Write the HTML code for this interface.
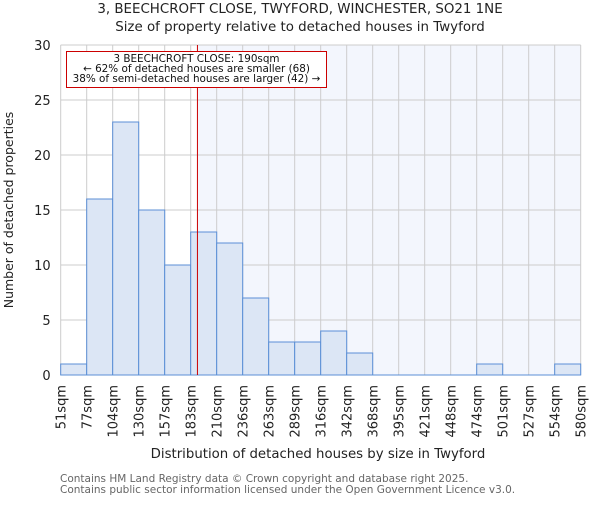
<!DOCTYPE html>
<html><head><meta charset="utf-8"><style>
body{margin:0;background:#fff;}
svg{font-family:"DejaVu Sans","Liberation Sans",sans-serif;}
</style></head><body>
<svg id="chart" width="600" height="500" xmlns="http://www.w3.org/2000/svg">
<text x="300" y="13" text-anchor="middle" font-size="13.4" fill="#222">3, BEECHCROFT CLOSE, TWYFORD, WINCHESTER, SO21 1NE</text>
<text x="300" y="31" text-anchor="middle" font-size="13.4" fill="#222">Size of property relative to detached houses in Twyford</text>
<g id="plot"></g>
<text x="318" y="458" text-anchor="middle" font-size="13.3" fill="#222">Distribution of detached houses by size in Twyford</text>
<text transform="translate(13,210) rotate(-90)" text-anchor="middle" font-size="12.5" fill="#222">Number of detached properties</text>
<text x="60" y="482" font-size="10.5" fill="#666">Contains HM Land Registry data © Crown copyright and database right 2025.</text>
<text x="60" y="493" font-size="10.5" fill="#666">Contains public sector information licensed under the Open Government Licence v3.0.</text>
</svg>
<script>
const categories=["51sqm","77sqm","104sqm","130sqm","157sqm","183sqm","210sqm","236sqm","263sqm","289sqm","316sqm","342sqm","368sqm","395sqm","421sqm","448sqm","474sqm","501sqm","527sqm","554sqm","580sqm"];
const counts=[1,16,23,15,10,13,12,7,3,3,4,2,0,0,0,0,1,0,0,1];
const yTicks=[0,5,10,15,20,25,30];
const binEdges=[51,77,104,130,157,183,210,236,263,289,316,342,368,395,421,448,474,501,527,554,580];
const subjectSize=190;
const NS="http://www.w3.org/2000/svg";
const L=60.7,R=580.7,T=45,B=375,YMAX=30;
const nb=counts.length,bw=(R-L)/nb;
const y=v=>B-(v/YMAX)*(B-T);
const xi=i=>L+i*bw;
function xv(v){for(let i=0;i<binEdges.length-1;i++){if(v<=binEdges[i+1]){return xi(i)+(v-binEdges[i])/(binEdges[i+1]-binEdges[i])*bw;}}return R;}
const g=document.getElementById('plot');
function mk(t,a){const e=document.createElementNS(NS,t);for(const k in a)e.setAttribute(k,a[k]);g.appendChild(e);return e;}
const sx=xv(subjectSize);
let e=mk('rect',{x:sx,y:T,width:R-sx,height:B-T,fill:'#f3f6fd'});


for(let i=0;i<=nb;i++){e=mk('line',{x1:xi(i),x2:xi(i),y1:T,y2:B,stroke:'#cccccc','stroke-width':1});

}
yTicks.forEach(t=>{e=mk('line',{x1:L,x2:R,y1:y(t),y2:y(t),stroke:'#cccccc','stroke-width':1});


e=mk('text',{x:L-10,y:y(t)+5,'text-anchor':'end','font-size':13,fill:'#222'});e.textContent=t;

});
counts.forEach((c,i)=>{if(c<=0)return;e=mk('rect',{x:xi(i),y:y(c),width:bw,height:B-y(c),fill:'#dce6f5',stroke:'#5b8fd6','stroke-width':1});

});
e=mk('line',{x1:L,x2:R,y1:B,y2:B,stroke:'#5b8fd6','stroke-width':1});


categories.forEach((c,i)=>{const x=xi(i);e=mk('text',{transform:`translate(${x+5},${B+10}) rotate(-90)`,'text-anchor':'end','font-size':13,fill:'#222'});e.textContent=c;

});
e=mk('line',{x1:sx,x2:sx,y1:T,y2:B,stroke:'#cc0000','stroke-width':1});


e=mk('rect',{x:66.5,y:51.5,width:260,height:36,fill:'#fff',stroke:'#cc0000','stroke-width':1});


["3 BEECHCROFT CLOSE: 190sqm","← 62% of detached houses are smaller (68)","38% of semi-detached houses are larger (42) →"].forEach((s,k)=>{e=mk('text',{x:196.5,y:62+k*10,'text-anchor':'middle','font-size':10.4,fill:'#111'});e.textContent=s;

});
</script>
</body></html>
